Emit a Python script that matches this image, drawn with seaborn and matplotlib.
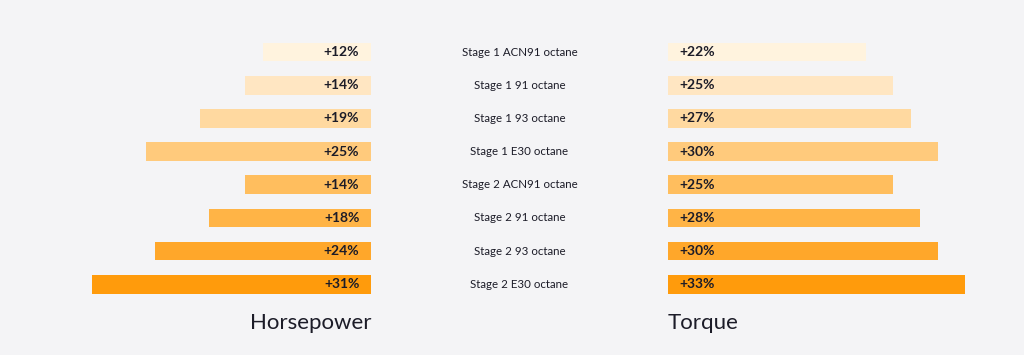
import matplotlib
matplotlib.use("Agg")
import matplotlib.pyplot as plt
import seaborn as sns
import pandas as pd

categories = ["Stage 1 ACN91 octane", "Stage 1 91 octane", "Stage 1 93 octane",
              "Stage 1 E30 octane", "Stage 2 ACN91 octane", "Stage 2 91 octane",
              "Stage 2 93 octane", "Stage 2 E30 octane"]
horsepower = [12, 14, 19, 25, 14, 18, 24, 31]
torque = [22, 25, 27, 30, 25, 28, 30, 33]
colors = ["#fff3de", "#ffe6c2", "#ffd9a0", "#ffca7c", "#ffbe5e", "#ffb446", "#ffa72a", "#ff9b0c"]

sns.set_theme(style="white")
plt.rcParams['font.family'] = ['Lato', 'DejaVu Sans']
BG = "#f4f4f6"
TXT = "#1c1c28"

df = pd.DataFrame({"cat": categories, "hp": horsepower, "tq": torque})
pal = dict(zip(categories, colors))

W, H = 1024, 355
fig = plt.figure(figsize=(W / 100, H / 100), dpi=100, facecolor=BG)

row_top = 35.6
row_bot = 300.8
b = 1 - row_bot / H
h = (row_bot - row_top) / H
XMAX = 35
span = XMAX * 9

axL = fig.add_axes([(371 - span) / W, b, span / W, h])
axR = fig.add_axes([668 / W, b, span / W, h])
axM = fig.add_axes([371 / W, b, (668 - 371) / W, h])

for ax, col in ((axL, "hp"), (axR, "tq")):
    sns.barplot(data=df, x=col, y="cat", hue="cat", palette=pal, legend=False,
                orient="h", width=0.56, ax=ax, saturation=1, linewidth=0)
    ax.set_xlim(0, XMAX)
    ax.set_ylim(len(categories) - 0.5, -0.5)
    ax.axis("off")
axL.invert_xaxis()

for i, v in enumerate(horsepower):
    axL.text(1.3, i, f"+{v}%", ha="right", va="center", fontsize=10,
             fontweight="bold", color=TXT)
for i, v in enumerate(torque):
    axR.text(1.3, i, f"+{v}%", ha="left", va="center", fontsize=10,
             fontweight="bold", color=TXT)

axM.set_xlim(0, 1)
axM.set_ylim(len(categories) - 0.5, -0.5)
axM.axis("off")
for i, c in enumerate(categories):
    axM.text(0.5, i, c, ha="center", va="center", fontsize=8.3, color=TXT)

fig.text(371 / W, 1 - 323 / H, "Horsepower", ha="right", va="center",
         fontsize=16, color=TXT)
fig.text(668 / W, 1 - 323 / H, "Torque", ha="left", va="center",
         fontsize=16, color=TXT)

fig.savefig("out.png", dpi=100, facecolor=BG)
